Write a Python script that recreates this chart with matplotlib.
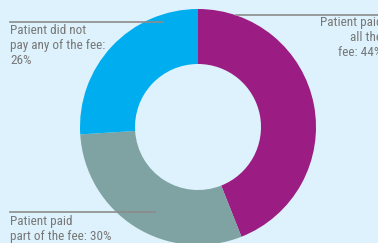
import matplotlib
matplotlib.use("Agg")
import matplotlib.pyplot as plt
from matplotlib import font_manager

labels = ["Patient paid\nall the\nfee: 44%",
          "Patient paid\npart of the fee: 30%",
          "Patient did not\npay any of the fee:\n26%"]
shares = [44, 30, 26]
colors = ["#9b1c82", "#7fa2a2", "#00adee"]

bg = "#ddf2fc"
W, H = 378, 243

# condensed sans, like the original
names = {f.name for f in font_manager.fontManager.ttflist}
font = "DejaVu Sans"
for cand in ["Liberation Sans Narrow", "Roboto Condensed", "Archivo Narrow", "Barlow Condensed"]:
    if cand in names:
        font = cand
        break

fig = plt.figure(figsize=(W / 100, H / 100), dpi=100, facecolor=bg)
ax = fig.add_axes([0, 0, 1, 1])
ax.set_facecolor(bg)

# donut, pixel coordinates (y measured from bottom)
ax.pie(shares, colors=colors, startangle=90, counterclock=False,
       center=(198, H - 127), radius=118, frame=True,
       wedgeprops=dict(width=55, linewidth=0))
ax.set_xlim(0, W)
ax.set_ylim(0, H)
ax.axis("off")

line_c = "#8c8c8c"
ax.plot([236, W], [H - 15, H - 15], color=line_c, lw=1.2, zorder=5)
ax.plot([10, 163], [H - 22, H - 22], color=line_c, lw=1.2, zorder=5)
ax.plot([10, 155], [H - 212, H - 212], color=line_c, lw=1.2, zorder=5)

txt = dict(fontsize=9.5, color="#777777", family=font, va="top", linespacing=1.22)
ax.text(382, H - 16, labels[0], ha="right", multialignment="right", **txt)
ax.text(10, H - 24, labels[2], ha="left", **txt)
ax.text(10, H - 215, labels[1], ha="left", **txt)

fig.savefig("out.png", dpi=100, facecolor=bg)
